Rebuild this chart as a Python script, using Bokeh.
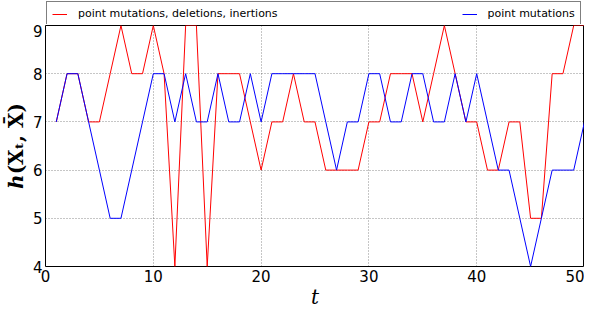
from bokeh.plotting import figure
from bokeh.models import Range1d, Legend, LegendItem, FixedTicker
from bokeh.layouts import column
from bokeh.embed import file_html
from bokeh.resources import INLINE

t = list(range(1, 51))
full = [7, 8, 8, 7, 7, 8, 9, 8, 8, 9,
        8, 4, 9, 9, 4, 8, 8, 8, 7, 6,
        7, 7, 8, 7, 7, 6, 6, 6, 6, 7,
        7, 8, 8, 8, 7, 8, 9, 8, 7, 7,
        6, 6, 7, 7, 5, 5, 8, 8, 9, 9]
point = [7, 8, 8, 7, 6, 5, 5, 6, 7, 8,
         8, 7, 8, 7, 7, 8, 7, 7, 8, 7,
         8, 8, 8, 8, 8, 7, 6, 7, 7, 8,
         8, 7, 7, 8, 8, 7, 7, 8, 7, 8,
         7, 6, 6, 5, 4, 5, 6, 6, 6, 7]
x_ticks = [0, 10, 20, 30, 40, 50]
y_ticks = [4, 5, 6, 7, 8, 9]
label_full = "point mutations, deletions, inertions"
label_point = "point mutations"
x_title = "t"
y_title = "ℎ(Xₜ, X̄)"

W = 584
LEFT = 41
TOP_H = 24

# legend strip (the series are drawn here too, but fall outside its range)
q = figure(width=W, height=TOP_H, output_backend="svg", toolbar_location=None,
           x_range=Range1d(0, 50), y_range=Range1d(-10, -9),
           min_border_left=LEFT - 1, min_border_right=0, min_border_top=0, min_border_bottom=0)
q.axis.visible = False
q.grid.visible = False
q.outline_line_color = None
d1 = q.line(t, full, line_color="#ff0000", line_width=1)
d2 = q.line(t, point, line_color="#0000ff", line_width=1)
legend = Legend(items=[LegendItem(label=label_full, renderers=[d1]),
                       LegendItem(label=label_point, renderers=[d2])],
                orientation="horizontal", location="top_left",
                glyph_width=15, glyph_height=10, label_height=10,
                label_standoff=11, padding=5, margin=1, spacing=184,
                label_text_font="DejaVu Sans", label_text_font_size="11px",
                label_text_color="black",
                border_line_color="black", border_line_width=1,
                background_fill_alpha=1.0)
q.add_layout(legend, "center")

# main plot
p = figure(width=W, height=311 - TOP_H, output_backend="svg", toolbar_location=None,
           x_range=Range1d(0, 50), y_range=Range1d(4, 9),
           min_border_left=LEFT, min_border_right=0, min_border_top=1, min_border_bottom=20)
p.background_fill_color = "white"
p.border_fill_color = "white"
p.outline_line_color = "black"
p.outline_line_width = 1

p.line(t, full, line_color="#ff0000", line_width=1)
p.line(t, point, line_color="#0000ff", line_width=1)

for ax in (p.xaxis[0], p.yaxis[0]):
    ax.axis_line_color = None
    ax.major_tick_line_color = None
    ax.minor_tick_line_color = None
    ax.major_tick_out = 0
    ax.major_tick_in = 0
    ax.minor_tick_out = 0
    ax.minor_tick_in = 0
    ax.major_label_text_font = "DejaVu Sans"
    ax.major_label_text_font_size = "15px"
    ax.major_label_text_color = "black"
    ax.major_label_standoff = 3
    ax.axis_label_text_font = "DejaVu Serif"
    ax.axis_label_text_color = "black"
p.xaxis[0].ticker = FixedTicker(ticks=x_ticks)
p.yaxis[0].ticker = FixedTicker(ticks=y_ticks)
p.xaxis[0].axis_label = x_title
p.xaxis[0].axis_label_text_font_style = "italic"
p.xaxis[0].axis_label_text_font_size = "20px"
p.xaxis[0].axis_label_standoff = 0
p.yaxis[0].axis_label = y_title
p.yaxis[0].axis_label_text_font_style = "bold"
p.yaxis[0].axis_label_text_font_size = "20px"
p.yaxis[0].axis_label_standoff = 2

for g in (p.xgrid[0], p.ygrid[0]):
    g.grid_line_color = "black"
    g.grid_line_alpha = 0.45
    g.grid_line_dash = "1 2"
    g.grid_line_width = 1
p.xgrid[0].ticker = FixedTicker(ticks=x_ticks)
p.ygrid[0].ticker = FixedTicker(ticks=y_ticks)

layout = column(q, p, spacing=0)
open("out.html", "w").write(file_html(layout, INLINE))
